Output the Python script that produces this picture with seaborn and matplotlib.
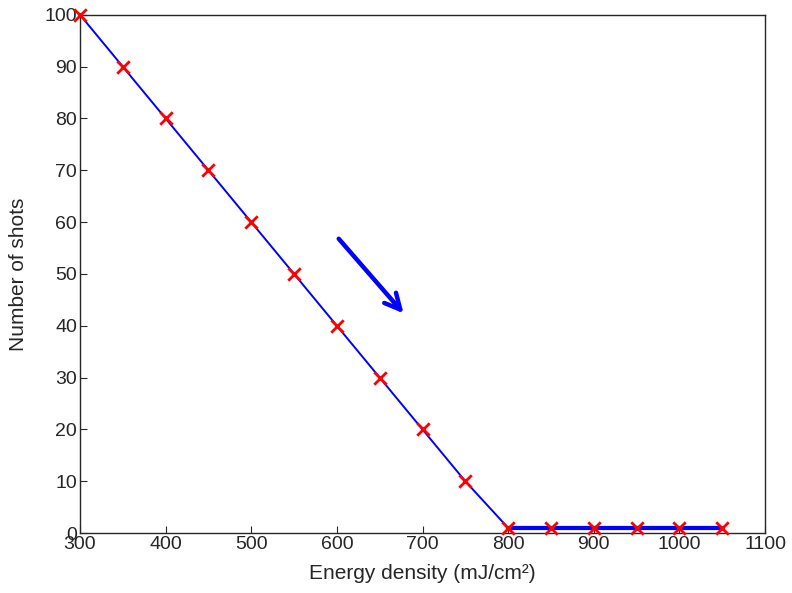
import matplotlib
matplotlib.use("Agg")
import matplotlib.pyplot as plt
import seaborn as sns
import pandas as pd

# Datos
energy = [300, 350, 400, 450, 500, 550, 600, 650, 700, 750,
          800, 850, 900, 950, 1000, 1050]
shots = [100, 90, 80, 70, 60, 50, 40, 30, 20, 10,
         1, 1, 1, 1, 1, 1]

df = pd.DataFrame({"energy": energy, "shots": shots})
flat = df[df["energy"] >= 800]

sns.set_style("ticks")
plt.rcParams["font.family"] = ["Liberation Sans", "DejaVu Sans"]

fig = plt.figure(figsize=(7.92, 5.93), dpi=100)
ax = fig.add_axes([0.101, 0.101, 0.865, 0.874])

sns.lineplot(data=df, x="energy", y="shots", color="blue", linewidth=1.4, ax=ax)
sns.lineplot(data=flat, x="energy", y="shots", color="blue", linewidth=3, ax=ax)
sns.scatterplot(data=df, x="energy", y="shots", marker="x", color="red",
                s=80, linewidth=2, ax=ax, zorder=5, clip_on=False)

# Flecha
ax.annotate("", xy=(680, 42), xytext=(600, 57.2),
            arrowprops=dict(arrowstyle="->", color="blue", lw=3.2,
                            mutation_scale=28))

ax.set_xlim(300, 1100)
ax.set_ylim(0, 100)
ax.set_xticks(range(300, 1101, 100))
ax.set_yticks(range(0, 101, 10))
ax.tick_params(direction="in", labelsize=14, colors="#262626", length=5, pad=2)
for s in ax.spines.values():
    s.set_visible(True)
    s.set_color("#262626")
    s.set_linewidth(1)

ax.set_xlabel("Energy density (mJ/cm²)", fontsize=15, color="#262626", labelpad=8)
ax.set_ylabel("Number of shots", fontsize=15, color="#262626", labelpad=12)

fig.savefig("out.png", dpi=100)
